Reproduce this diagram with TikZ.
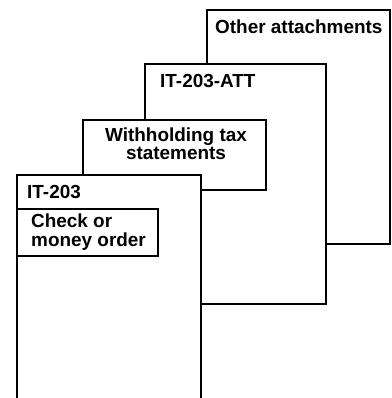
\documentclass[tikz,border=0pt]{standalone}
\usepackage{fontspec}
\setmainfont{Liberation Sans}
\begin{document}
\begin{tikzpicture}[x=1bp,y=-1bp,
  sheet/.style={draw=black, fill=white, line width=2.5bp, anchor=north west, inner sep=0pt, outer sep=0pt},
  lbl/.style={font=\fontsize{19}{19}\selectfont\bfseries, inner sep=0pt, anchor=base west},
  clbl/.style={font=\fontsize{19}{18}\selectfont\bfseries, inner sep=0pt, align=center, anchor=north}]
\useasboundingbox (0,0) rectangle (392,398);
% Other attachments
\node[sheet, minimum width=183bp, minimum height=234bp] (oa) at (207,10) {};
\node[lbl] (oat) at (215,33) {Other attachments};
% IT-203-ATT
\node[sheet, minimum width=181bp, minimum height=240bp] (att) at (145,64) {};
\node[lbl] (attt) at (160,87) {IT-203-ATT};
% Withholding tax statements
\node[sheet, minimum width=183bp, minimum height=70bp] (wh) at (83,120) {};
\node[clbl] (wht) at (176,128) {Withholding tax\\statements};
% IT-203 (bottom cut off by the page)
\node[sheet, minimum width=184bp, minimum height=240bp] (it) at (17,175) {};
\node[lbl] (itt) at (27,198) {IT-203};
% Check or money order
\node[sheet, minimum width=141bp, minimum height=47bp] (ck) at (17,209) {};
\node[lbl, align=left, anchor=north west] (ckt) at (31,214) {Check or\\money order};
\end{tikzpicture}
\end{document}
